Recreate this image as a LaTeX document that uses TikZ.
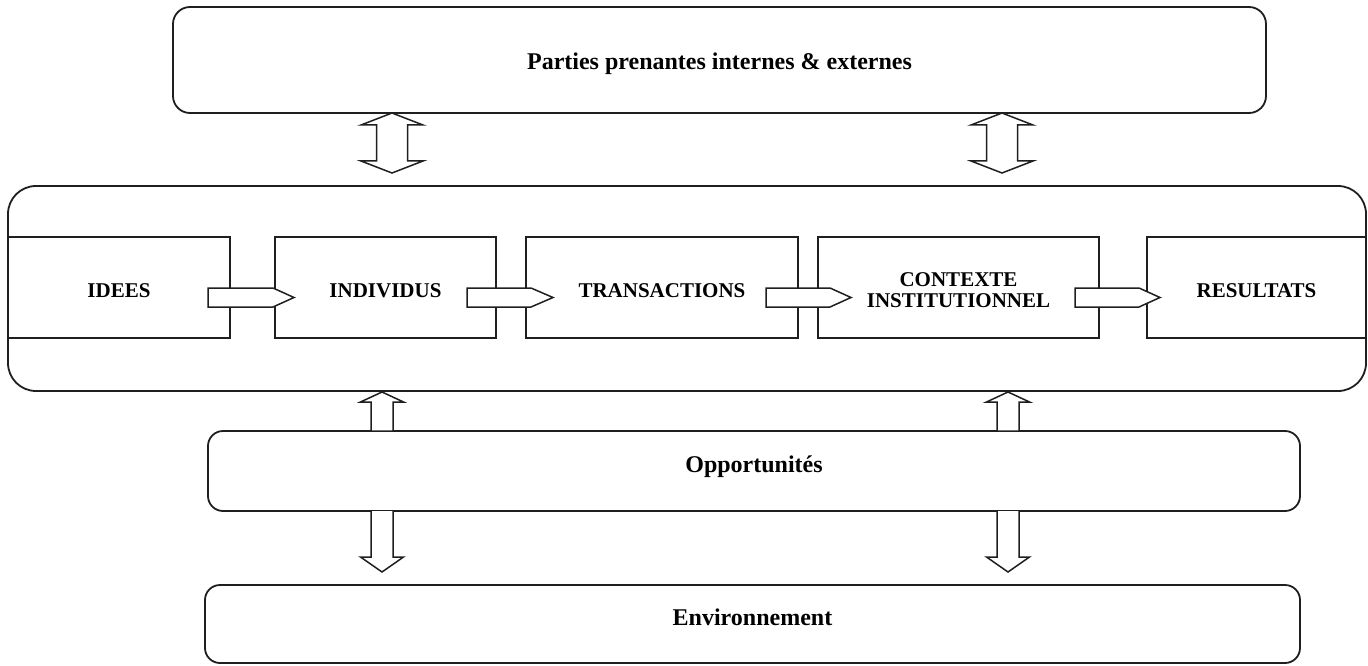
\documentclass[tikz,border=0pt]{standalone}
\usepackage{fontspec}
\setmainfont{Liberation Serif}
\usetikzlibrary{calc}
\begin{document}
\begin{tikzpicture}[x=1pt,y=-1pt,
  rbox/.style={draw=black!88, line width=1.8pt, inner sep=0pt},
  ibox/.style={draw=black!88, line width=1.8pt, inner sep=0pt, minimum height=101pt},
  lab/.style={font=\bfseries\fontsize{21}{24}\selectfont, inner sep=0pt, yshift=-3.5pt},
  biglab/.style={font=\bfseries\fontsize{24}{28}\selectfont, inner sep=0pt},
  barrow/.style={draw=black!88, line width=1.5pt, fill=white, line join=miter}]
\useasboundingbox (0,0) rectangle (1368,666);
% top box
\node[rbox, rounded corners=17pt, minimum width=1093pt, minimum height=106pt,
  label={[biglab, yshift=-4pt]center:Parties prenantes internes \& externes}] (top) at (719.5,60) {};
% big box
\node[rbox, rounded corners=28pt, minimum width=1358pt, minimum height=205pt] (big) at (687,288.5) {};
% inner boxes
\node[ibox, minimum width=222pt, label={[lab]center:IDEES}] (idees) at (119,287.5) {};
\node[ibox, minimum width=221pt, label={[lab]center:INDIVIDUS}] (indiv) at (385.5,287.5) {};
\node[ibox, minimum width=272pt, label={[lab]center:TRANSACTIONS}] (trans) at (662,287.5) {};
\node[ibox, minimum width=281pt, label={[lab, align=center, font=\bfseries\fontsize{21}{21}\selectfont, yshift=1pt]center:CONTEXTE\\INSTITUTIONNEL}] (ctx) at (958.5,287.5) {};
\node[ibox, minimum width=219pt, label={[lab]center:RESULTATS}] (res) at (1256.5,287.5) {};
% lower boxes
\node[rbox, rounded corners=15pt, minimum width=1092pt, minimum height=80pt,
  label={[biglab, yshift=4pt]center:Opportunités}] (opp) at (754,471) {};
\node[rbox, rounded corners=15pt, minimum width=1095pt, minimum height=78pt,
  label={[biglab, yshift=7pt]center:Environnement}] (env) at (752.5,624) {};
% horizontal block arrows
\foreach \a/\b/\t in {208/273/294, 467/531/553, 766/830/851, 1075/1139/1160}{
  \draw[barrow] (\a,288) -- (\b,288) -- (\t,297.5) -- (\b,307) -- (\a,307) -- cycle;
}
% top double arrows
\foreach \c in {392,1002}{
  \draw[barrow] (\c,113) -- ($(\c,125)+(31,0)$) -- ($(\c,125)+(15.5,0)$) -- ($(\c,161)+(15.5,0)$)
    -- ($(\c,161)+(31,0)$) -- (\c,173) -- ($(\c,161)+(-31,0)$) -- ($(\c,161)+(-15.5,0)$)
    -- ($(\c,125)+(-15.5,0)$) -- ($(\c,125)+(-31,0)$) -- cycle;
}
% up and down arrows
\foreach \c in {382,1008}{
  \draw[barrow] (\c,392) -- ($(\c,402)+(21.5,0)$) -- ($(\c,402)+(11,0)$) -- ($(\c,431)+(11,0)$)
    -- ($(\c,431)+(-11,0)$) -- ($(\c,402)+(-11,0)$) -- ($(\c,402)+(-21.5,0)$) -- cycle;
  \draw[barrow] ($(\c,511)+(-11,0)$) -- ($(\c,557)+(-11,0)$) -- ($(\c,557)+(-21.5,0)$) -- (\c,572)
    -- ($(\c,557)+(21.5,0)$) -- ($(\c,557)+(11,0)$) -- ($(\c,511)+(11,0)$);
}
\end{tikzpicture}
\end{document}
